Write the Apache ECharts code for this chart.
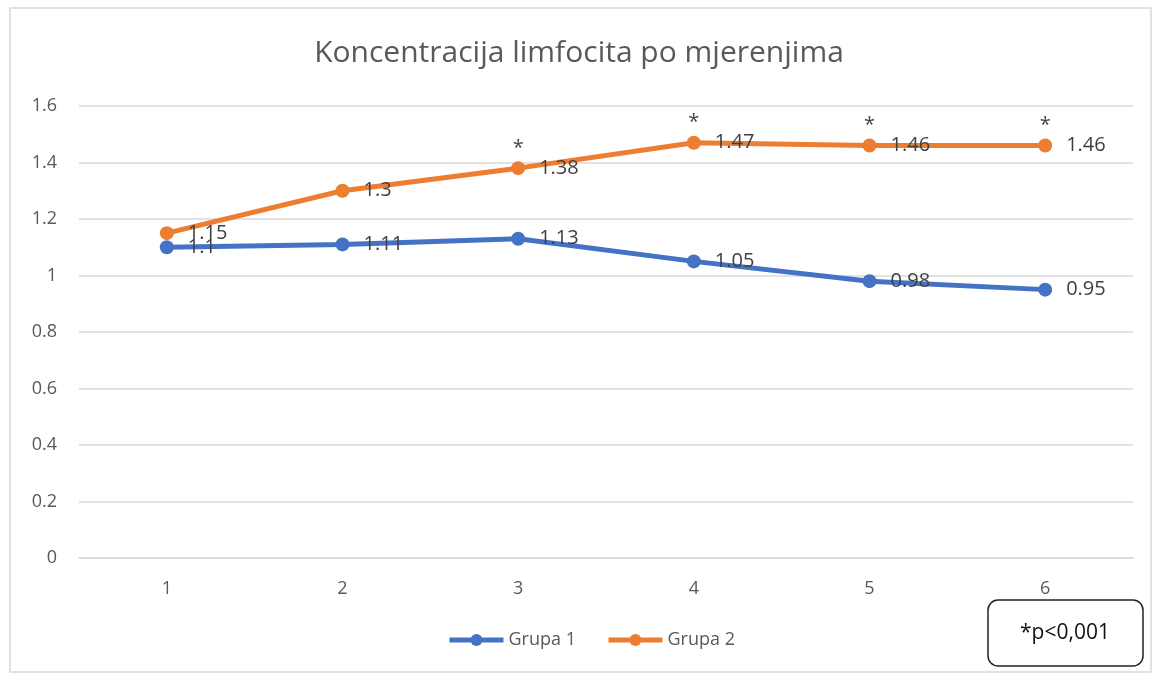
<!DOCTYPE html>
<html>
<head>
<meta charset="utf-8">
<script src="https://cdn.jsdelivr.net/npm/echarts@6/dist/echarts.min.js"></script>
<style>
  html, body { margin: 0; padding: 0; background: #fff; }
  #chart { width: 1158px; height: 674px; }
</style>
</head>
<body>
<div id="chart"></div>
<script>
// mjerenja (x os)
const mjerenja = ['1', '2', '3', '4', '5', '6']
// vrijednosti po grupama
const grupa1 = [1.1, 1.11, 1.13, 1.05, 0.98, 0.95]
const grupa2 = [1.15, 1.3, 1.38, 1.47, 1.46, 1.46]
// oznake značajnosti iznad grupe 2
const znacajnost = ['', '', '*', '*', '*', '*']

const chart = echarts.init(document.getElementById('chart'))
const font = 'Open Sans'

const option = {
  animation: false,
  backgroundColor: '#fff',
  title: {
    text: 'Koncentracija limfocita po mjerenjima',
    left: 'center',
    top: 33,
    textStyle: { color: '#595959', fontSize: 30, fontWeight: 'normal', fontFamily: font },
  },
  grid: { left: 79, right: 25, top: 106, bottom: 116 },
  legend: {
    bottom: 20,
    left: 442,
    itemWidth: 54,
    itemHeight: 15,
    itemGap: 30,
    lineStyle: { width: 5 },
    textStyle: { color: '#595959', fontSize: 18, fontFamily: font },
    data: ['Grupa 1', 'Grupa 2'],
  },
  xAxis: {
    type: 'category',
    data: mjerenja,
    axisLine: { show: true, lineStyle: { color: '#d9d9d9', width: 1.5 } },
    axisTick: { show: false },
    axisLabel: { color: '#595959', fontSize: 18, fontFamily: font, margin: 22 },
  },
  yAxis: {
    type: 'value',
    min: 0,
    max: 1.6,
    interval: 0.2,
    axisLine: { show: false },
    axisTick: { show: false },
    splitLine: { lineStyle: { color: '#d9d9d9', width: 1.5 } },
    axisLabel: { color: '#595959', fontSize: 18, fontFamily: font, margin: 22 },
  },
  graphic: [
    {
      type: 'rect',
      shape: { x: 10, y: 8, width: 1141, height: 664 },
      style: { fill: 'none', stroke: '#d9d9d9', lineWidth: 1.5 },
      silent: true,
    },
    {
      type: 'rect',
      shape: { x: 988, y: 600, width: 155, height: 66, r: 10 },
      style: { fill: '#fff', stroke: '#222', lineWidth: 1.5 },
    },
    {
      type: 'text',
      x: 1065,
      y: 633,
      style: {
        text: '*p<0,001',
        fill: '#111',
        fontSize: 21,
        fontFamily: font,
        align: 'center',
        verticalAlign: 'middle',
      },
    },
  ],
  series: [
    {
      name: 'Grupa 1',
      type: 'line',
      data: grupa1,
      color: '#4472c4',
      symbol: 'circle',
      symbolSize: 14,
      lineStyle: { width: 5 },
      label: {
        show: true,
        position: 'right',
        distance: 14,
        color: '#404040',
        fontSize: 20,
        fontFamily: font,
      },
    },
    {
      name: 'Grupa 2',
      type: 'line',
      data: grupa2,
      color: '#ed7d31',
      symbol: 'circle',
      symbolSize: 14,
      lineStyle: { width: 5 },
      label: {
        show: true,
        position: 'right',
        distance: 14,
        color: '#404040',
        fontSize: 20,
        fontFamily: font,
      },
    },
    {
      name: 'znacajnost',
      type: 'scatter',
      data: grupa2,
      symbolSize: 0,
      silent: true,
      label: {
        show: true,
        position: 'top',
        distance: 10,
        color: '#111',
        fontSize: 20,
        fontFamily: font,
        formatter: (p) => znacajnost[p.dataIndex],
      },
    },
  ],
}

chart.setOption(option)
</script>
</body>
</html>
